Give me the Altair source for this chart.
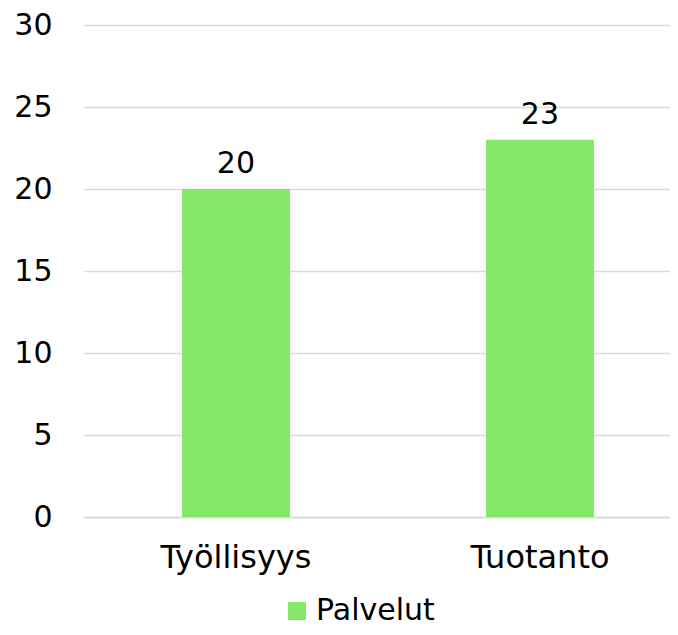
import altair as alt
import pandas as pd

categories = ["Työllisyys", "Tuotanto"]
values = [20, 23]
series = ["Palvelut", "Palvelut"]
y_ticks = [0, 5, 10, 15, 20, 25, 30]

df = pd.DataFrame({"cat": categories, "val": values, "series": series})

FONT = "DejaVu Sans"

x_enc = alt.X("cat:N", sort=categories, title=None,
              scale=alt.Scale(paddingInner=0.6447, paddingOuter=0.2862, align=0.563),
              axis=alt.Axis(labelAngle=0, labelFontSize=32, labelFont=FONT, labelColor="#000000",
                            labelPadding=25, ticks=False, domainColor="#d9d9d9", domainWidth=1.5,
                            grid=False))
y_enc = alt.Y("val:Q", title=None,
              scale=alt.Scale(domain=[0, 30], nice=False),
              axis=alt.Axis(values=y_ticks, labelFontSize=30, labelFont=FONT, labelColor="#000000",
                            labelPadding=32, ticks=False, domain=False, gridColor="#d9d9d9",
                            gridWidth=1.5))

base = alt.Chart(df).encode(x=x_enc, y=y_enc)

bars = base.mark_bar(color="#86E86A").encode(
    fill=alt.Fill("series:N", scale=alt.Scale(range=["#86E86A"]),
                  legend=alt.Legend(title=None, orient="none", legendX=198, legendY=571,
                                    symbolType="square", symbolSize=324, symbolStrokeWidth=0,
                                    labelFontSize=30, labelFont=FONT, labelColor="#000000",
                                    symbolOffset=0, labelOffset=4)),
)

labels = base.mark_text(fontSize=30, font=FONT, color="#000000", baseline="alphabetic", dy=-16).encode(
    text=alt.Text("val:Q"),
)

chart = (bars + labels).properties(
    width=586, height=492,
    background="#ffffff",
    autosize=alt.AutoSizeParams(type="none"),
    padding={"left": 76, "top": 17, "right": 0, "bottom": 110},
).configure_view(strokeWidth=0, stroke=None)

chart.save("out.html", embed_options={"renderer": "svg", "actions": False})
